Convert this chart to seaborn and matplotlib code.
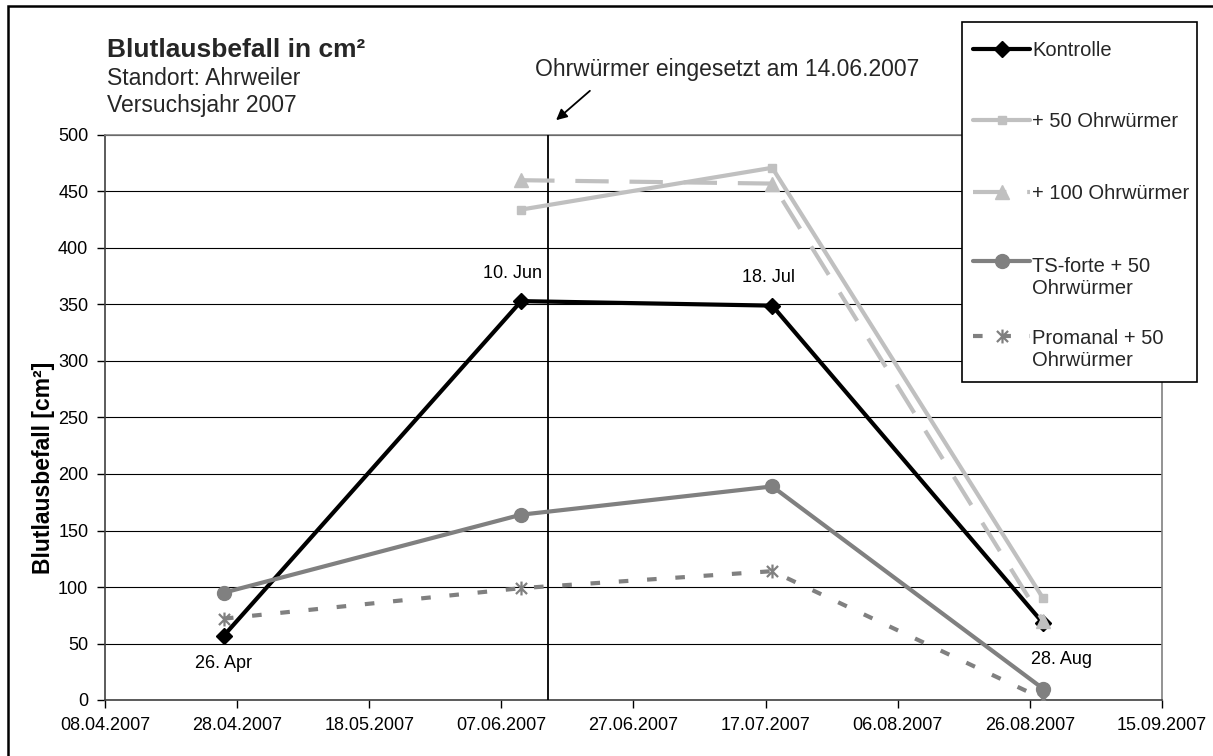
import matplotlib
matplotlib.use("Agg")
import matplotlib.pyplot as plt
import matplotlib.dates as mdates
from matplotlib.patches import Rectangle
from matplotlib.lines import Line2D
from matplotlib.path import Path
from matplotlib.transforms import IdentityTransform
import pandas as pd
import seaborn as sns

# ---- data -----------------------------------------------------------------
dates_all = ["2007-04-26", "2007-06-10", "2007-07-18", "2007-08-28"]
dates_late = ["2007-06-10", "2007-07-18", "2007-08-28"]

kontrolle = [57, 353, 349, 68]
ohrwuermer_50 = [434, 471, 90]
ohrwuermer_100 = [460, 457, 70]
ts_forte_50 = [95, 164, 189, 10]
promanal_50 = [72, 99, 114, 1]

series_names = ["Kontrolle", "+ 50 Ohrwürmer", "+ 100 Ohrwürmer",
                "TS-forte + 50\nOhrwürmer", "Promanal + 50\nOhrwürmer"]
point_labels = ["26. Apr", "10. Jun", "18. Jul", "28. Aug"]
release_date = "2007-06-14"
x_start, x_end = "2007-04-08", "2007-09-15"
y_ticks = [0, 50, 100, 150, 200, 250, 300, 350, 400, 450, 500]

# ---- style ----------------------------------------------------------------
sns.set_theme(style="white")
plt.rcParams["font.family"] = ["Liberation Sans", "DejaVu Sans"]

W, H = 1213, 756
fig = plt.figure(figsize=(W / 100, H / 100), dpi=100)
ax = fig.add_axes([105 / W, 1 - 700 / H, 1057 / W, 565 / H])

# asterisk marker: vertical stroke plus a diagonal cross
star = Path([(0, -1), (0, 1), (-0.8, -0.8), (0.8, 0.8), (-0.8, 0.8), (0.8, -0.8)],
            [Path.MOVETO, Path.LINETO, Path.MOVETO, Path.LINETO, Path.MOVETO, Path.LINETO])

light = "#C0C0C0"
mid = "#808080"
styles = [
    dict(color="black", marker="D", markersize=8, dashes=None),
    dict(color=light, marker="s", markersize=6, dashes=None),
    dict(color=light, marker="^", markersize=10, dashes=(8, 5)),
    dict(color=mid, marker="o", markersize=10, dashes=None),
    dict(color=mid, marker=star, markersize=10, dashes=(2.3, 4.5)),
]
values = [kontrolle, ohrwuermer_50, ohrwuermer_100, ts_forte_50, promanal_50]
dates = [dates_all, dates_late, dates_late, dates_all, dates_all]


def marker_kw(st):
    is_star = st["marker"] is star
    return dict(marker=st["marker"], markersize=st["markersize"],
                markeredgecolor=st["color"],
                markeredgewidth=1.6 if is_star else 1,
                markerfacecolor="none" if is_star else st["color"])


for name, d, v, st in zip(series_names, dates, values, styles):
    df = pd.DataFrame({"Datum": pd.to_datetime(d), "Blutlausbefall": v})
    sns.lineplot(data=df, x="Datum", y="Blutlausbefall", ax=ax, legend=False,
                 color=st["color"], linewidth=3, zorder=4, **marker_kw(st))
    line = ax.lines[-1]
    if st["dashes"]:
        line.set_dashes(st["dashes"])

# date labels on the control series
label_offsets = [(0, -20), (-6, 20), (-3, 20), (13, -26)]
for d, v, txt, off in zip(dates_all, kontrolle, point_labels, label_offsets):
    ax.annotate(txt, xy=(pd.Timestamp(d), v), xytext=off, textcoords="offset points",
                ha="center", va="center", fontsize=13, color="black", zorder=5)

# release of earwigs
ax.axvline(pd.Timestamp(release_date), color="black", lw=1.3, zorder=3)

# axes
ax.set_xlim(pd.Timestamp(x_start), pd.Timestamp(x_end))
ax.set_ylim(0, 500)
ax.set_yticks(y_ticks)
ax.set_xticks(pd.date_range(x_start, x_end, freq="20D"))
ax.xaxis.set_major_formatter(mdates.DateFormatter("%d.%m.%Y"))
ax.tick_params(axis="both", labelsize=13, colors="black", direction="out",
               length=6, width=1, pad=6, left=True, bottom=True)
ax.yaxis.grid(True, color="black", lw=0.8)
ax.xaxis.grid(False)
ax.set_axisbelow(True)
for side, sp in ax.spines.items():
    sp.set_visible(True)
    sp.set_linewidth(1.2)
    sp.set_color("#808080" if side in ("top", "right") else "#404040")
ax.set_xlabel("")
ax.set_ylabel("Blutlausbefall [cm²]", fontsize=16.5, fontweight="bold", color="black")
ax.yaxis.set_label_coords(-0.047, 0.41)

# legend box with evenly spaced entries (positions in figure pixels from the top)
px = IdentityTransform()
fig.add_artist(Rectangle((962, H - 382), 235, 360, transform=px, facecolor="white",
                         edgecolor="black", lw=1.2, zorder=5))
handle_y = [49, 120, 192, 261, 336]
text_y = [49, 120, 192, 265, 336]
line_gap = 22.5
for name, st, hy, ty in zip(series_names, styles, handle_y, text_y):
    seg = Line2D([973, 1030], [H - hy, H - hy], transform=px, color=st["color"], lw=3,
                 zorder=6)
    if st["dashes"]:
        seg.set_dashes(st["dashes"])
    fig.add_artist(seg)
    fig.add_artist(Line2D([1001.5], [H - hy], transform=px, linestyle="none",
                          zorder=7, **marker_kw(st)))
    n_lines = name.count("\n") + 1
    base = ty + 7 + line_gap * (n_lines - 1)
    fig.text(1032 / W, 1 - base / H, name, fontsize=14.5, ha="left",
             va="baseline", zorder=7)

# titles and annotation
fig.text(107 / W, 1 - 57 / H, "Blutlausbefall in cm²", fontsize=19, fontweight="bold",
         ha="left", va="baseline")
fig.text(107 / W, 1 - 85 / H, "Standort: Ahrweiler", fontsize=16.5, ha="left", va="baseline")
fig.text(107 / W, 1 - 112 / H, "Versuchsjahr 2007", fontsize=16.5, ha="left", va="baseline")
fig.text(727 / W, 1 - 76 / H, "Ohrwürmer eingesetzt am 14.06.2007", fontsize=16.5,
         ha="center", va="baseline")
ax.annotate("", xy=(554, H - 122), xycoords="figure pixels",
            xytext=(592, H - 89), textcoords="figure pixels",
            arrowprops=dict(arrowstyle="-|>", color="black", lw=1.3, mutation_scale=16),
            annotation_clip=False)

# outer frame
fig.patches.append(Rectangle((8 / W, -0.1), 1.2, 1 - 6 / H + 0.1, transform=fig.transFigure,
                             fill=False, edgecolor="black", lw=1.8))

fig.savefig("out.png", dpi=100)
